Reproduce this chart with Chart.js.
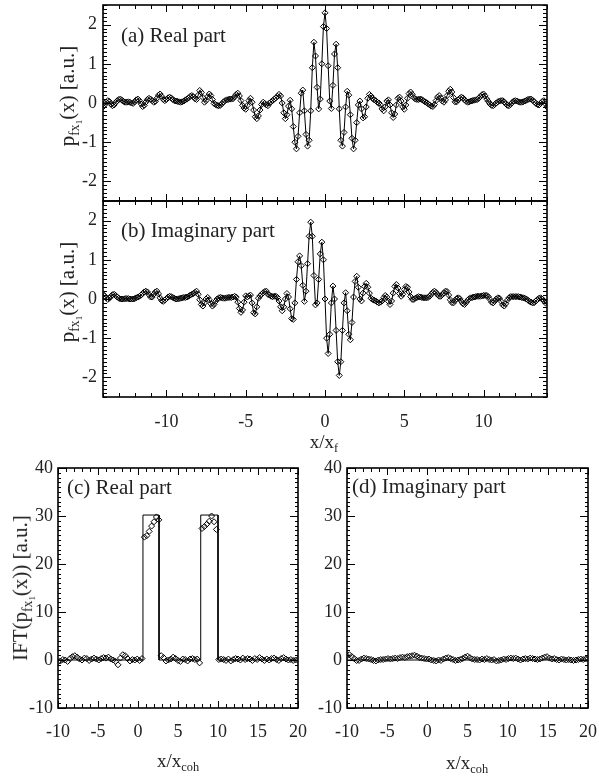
<!DOCTYPE html>
<html>
<head>
<meta charset="utf-8">
<script src="https://cdn.jsdelivr.net/npm/chart.js@4/dist/chart.umd.min.js"></script>
<style>
  body { margin: 0; background: #fff; width: 599px; height: 777px; position: relative; overflow: hidden;
         font-family: "Liberation Serif", "DejaVu Serif", serif; color: #222; }
  canvas { position: absolute; }
  .t { position: absolute; white-space: nowrap; font-size: 19px; line-height: 1; }
  .rot { transform: translate(-50%, -50%) rotate(-90deg); font-size: 21px; }
  .ctr { transform: translate(-50%, -50%); }
  .lab { transform: translateY(-50%); font-size: 21px; }
  sub { font-size: 65%; vertical-align: -0.35em; line-height: 0; }
</style>
</head>
<body>
<canvas id="pa" width="599" height="210" style="left:0;top:0"></canvas>
<canvas id="pb" width="599" height="260" style="left:0;top:190px"></canvas>
<canvas id="pc" width="312" height="317" style="left:0;top:460px"></canvas>
<canvas id="pd" width="299" height="317" style="left:300px;top:460px"></canvas>

<div class="t lab" style="left:121px;top:35px">(a) Real part</div>
<div class="t lab" style="left:121px;top:230px">(b) Imaginary part</div>
<div class="t lab" style="left:67px;top:487px">(c) Real part</div>
<div class="t lab" style="left:352px;top:486px">(d) Imaginary part</div>

<div class="t rot" style="left:68px;top:96px">p<sub>fx<sub>1</sub></sub>(x) [a.u.]</div>
<div class="t rot" style="left:68px;top:292px">p<sub>fx<sub>1</sub></sub>(x) [a.u.]</div>
<div class="t rot" style="left:21px;top:588px">IFT(p<sub>fx<sub>1</sub></sub>(x)) [a.u.]</div>

<div class="t ctr" style="left:324px;top:441px">x/x<sub>f</sub></div>
<div class="t ctr" style="left:178px;top:760px">x/x<sub>coh</sub></div>
<div class="t ctr" style="left:467px;top:762px">x/x<sub>coh</sub></div>

<script>
// Data -----------------------------------------------------------------------------------

// panels (a) and (b): samples from x = -14 to 14, every 0.1 x/x_f
var X_AB_START = -14;
var X_AB_STEP = 0.1;

var realPart = [
  -0.10, -0.05, 0.02, 0.06, 0.04, -0.03, -0.07, -0.05, 0.01, 0.06,
  0.09, 0.10, 0.07, 0.04, 0.02, 0.02, 0.03, 0.02, 0.00, -0.01,
  0.03, 0.08, 0.10, 0.06, -0.02, -0.09, -0.06, 0.02, 0.09, 0.12,
  0.10, 0.06, 0.02, 0.04, 0.12, 0.20, 0.23, 0.17, 0.09, 0.06,
  0.09, 0.13, 0.15, 0.13, 0.09, 0.06, 0.05, 0.04, 0.03, 0.02,
  0.03, 0.05, 0.08, 0.10, 0.13, 0.17, 0.19, 0.16, 0.11, 0.09,
  0.20, 0.32, 0.27, 0.14, 0.02, 0.06, 0.16, 0.23, 0.19, 0.09,
  -0.01, -0.04, -0.06, -0.07, -0.06, -0.02, 0.03, 0.06, 0.08, 0.09,
  0.10, 0.10, 0.11, 0.16, 0.22, 0.25, 0.18, 0.06, -0.06, -0.13,
  -0.16, -0.06, 0.06, 0.12, 0.02, -0.18, -0.35, -0.40, -0.33, -0.18,
  -0.04, 0.02, -0.01, -0.05, -0.07,
  0.00, 0.03, 0.06, 0.10, 0.13, 0.17, 0.22, 0.18, 0.00, -0.25,
  -0.40, -0.30, -0.08, 0.07, -0.15, -0.60, -1.00, -1.17, -0.85, -0.25,
  0.25, 0.33, -0.20, -0.80, -1.10, -0.95, -0.20, 0.90, 1.55, 1.20,
  0.40, -0.15, 0.10, 1.00, 1.95, 2.30, 1.90, 0.95, 0.05, -0.14,
  0.45, 1.25, 1.50, 0.90, -0.15, -0.95, -1.10, -0.75, -0.10, 0.30,
  0.20, -0.30, -0.90, -1.17, -0.95, -0.50, -0.05, 0.05, -0.15, -0.38,
  -0.35, -0.10, 0.12, 0.22, 0.18, 0.12, 0.08, 0.06, 0.02, 0.00,
  -0.05,
  -0.15, -0.20, -0.10, 0.05, 0.08, -0.05, -0.25, -0.37, -0.28, -0.05,
  0.12, 0.15, 0.05, -0.10, -0.16, -0.05, 0.12, 0.24, 0.28, 0.22,
  0.14, 0.10, 0.09, 0.09, 0.10, 0.09, 0.06, 0.03, 0.01, -0.02,
  -0.05, -0.08, -0.09, -0.04, 0.06, 0.15, 0.19, 0.13, 0.05, 0.02,
  0.08, 0.19, 0.30, 0.35, 0.28, 0.14, 0.03, 0.03, 0.08, 0.12,
  0.15, 0.13, 0.08, 0.04, 0.02, 0.03, 0.05, 0.06, 0.07, 0.08,
  0.09, 0.12, 0.17, 0.21, 0.23, 0.18, 0.10, 0.04, -0.02, -0.06,
  -0.07, -0.04, 0.00, 0.03, 0.05, 0.06, 0.06, 0.03, -0.02, -0.06,
  -0.07, -0.04, 0.01, 0.05, 0.06, 0.05, 0.03, 0.02, 0.02, 0.03,
  0.05, 0.07, 0.09, 0.10, 0.10, 0.07, 0.03, -0.01, -0.04, -0.05,
  -0.01, 0.04, 0.06, -0.02, -0.10
];

var imagPart = [
  0.12, 0.08, 0.03, -0.01, 0.02, 0.07, 0.11, 0.12, 0.09, 0.05,
  0.02, 0.00, 0.00, 0.00, 0.01, 0.01, 0.01, 0.00, 0.00, 0.00,
  0.01, 0.03, 0.05, 0.07, 0.10, 0.14, 0.18, 0.20, 0.18, 0.11,
  0.05, 0.05, 0.12, 0.18, 0.20, 0.13, 0.03, -0.04, -0.06, -0.03,
  0.01, 0.05, 0.07, 0.06, 0.04, 0.02, 0.00, 0.00, 0.01, 0.02,
  0.03, 0.04, 0.04, 0.05, 0.07, 0.10, 0.12, 0.14, 0.17, 0.20,
  0.12, -0.02, -0.14, -0.18, -0.10, 0.00, 0.04, -0.02, -0.12, -0.18,
  -0.14, -0.06, 0.00, 0.03, 0.04, 0.03, 0.02, 0.02, 0.03, 0.04,
  0.04, 0.04, 0.05, 0.07, 0.05, -0.08, -0.24, -0.34, -0.28, -0.08,
  0.08, 0.05, 0.08, 0.10, -0.10, -0.35, -0.38, -0.20, 0.02, 0.08,
  0.12, 0.16, 0.19, 0.20, 0.12,
  0.10, 0.07, 0.06, 0.07, 0.07, 0.04, -0.05, -0.20, -0.30, -0.20,
  0.00, 0.14, 0.05, -0.25, -0.50, -0.52, -0.10, 0.50, 0.95, 1.10,
  0.85, 0.35, -0.06, 0.20, 0.90, 1.60, 1.96, 1.60, 0.60, -0.15,
  -0.10, 0.50, 1.15, 1.45, 1.00, 0.00, -1.00, -1.39, -0.90, -0.10,
  0.33, 0.00, -0.80, -1.60, -1.95, -1.60, -0.80, -0.10, 0.16, -0.30,
  -0.90, -1.04, -0.60, 0.05, 0.45, 0.58, 0.30, 0.00, -0.05, 0.15,
  0.32, 0.40, 0.30, 0.15, 0.02, -0.01, -0.03, -0.05, -0.08, -0.10,
  -0.08,
  -0.05, 0.03, 0.09, 0.05, -0.06, -0.14, -0.05, 0.15, 0.32, 0.37,
  0.28, 0.14, 0.07, 0.12, 0.24, 0.32, 0.30, 0.18, 0.06, -0.01,
  -0.01, 0.02, 0.04, 0.06, 0.05, 0.04, 0.03, 0.03, 0.03, 0.04,
  0.07, 0.12, 0.17, 0.20, 0.17, 0.11, 0.07, 0.07, 0.11, 0.16,
  0.20, 0.19, 0.10, -0.02, -0.09, -0.10, -0.04, 0.01, 0.03, 0.01,
  -0.06, -0.12, -0.14, -0.09, -0.03, 0.01, 0.03, 0.04, 0.05, 0.06,
  0.07, 0.07, 0.07, 0.08, 0.09, 0.09, 0.09, 0.06, -0.01, -0.08,
  -0.10, -0.06, 0.00, 0.03, 0.02, -0.06, -0.15, -0.18, -0.12, -0.03,
  0.03, 0.06, 0.06, 0.06, 0.06, 0.06, 0.06, 0.05, 0.04, 0.03,
  0.02, 0.00, -0.03, -0.06, -0.08, -0.10, -0.09, -0.05, -0.01, 0.02,
  0.03, 0.00, -0.05, -0.10, -0.08
];

// panels (c) and (d): samples from x = -10 to 20, every 0.3 x/x_coh
var X_CD_START = -10;
var X_CD_STEP = 0.3;

var iftReal = [
  -0.4, -0.2, 0.1, 0.0, -0.3, 0.3, 0.7, 0.9, 0.6, 0.2,
  0.0, 0.4, 0.3, -0.1, 0.2, 0.4, 0.2, 0.0, 0.3, 0.5,
  0.4, 0.6, 0.2, 0.0, -0.3, -1.0, 0.4, 1.1, 0.9, 0.3,
  -0.2, 0.1, 0.0, 0.2, -0.1, 0.3, 25.6, 25.9, 26.8, 27.9,
  28.8, 29.8, 29.2, 0.9, 0.5, -0.2, 0.0, 0.2, 0.6, 0.3,
  -0.1, -0.3, 0.2, 0.1, -0.2, 0.2, 0.3, 0.1, 0.2, -0.6,
  27.4, 27.8, 28.3, 28.9, 30.0, 28.8, 27.2, 0.1, 0.2, 0.1,
  -0.1, 0.2, -0.2, 0.1, 0.3, 0.2, 0.0, 0.4, 0.1, 0.3,
  0.2, -0.1, 0.3, 0.1, 0.5, 0.2, -0.1, 0.2, 0.0, 0.3,
  0.4, 0.1, -0.1, 0.3, 0.5, 0.2, 0.0, 0.1, -0.1, 0.0,
  0.1
];

var iftImag = [
  0.9, 1.1, 0.7, 0.3, -0.1, -0.1, 0.2, 0.4, 0.3, 0.2,
  0.1, -0.1, -0.2, 0.0, 0.1, 0.1, 0.2, 0.3, 0.2, 0.3,
  0.4, 0.3, 0.5, 0.6, 0.5, 0.7, 0.8, 0.9, 1.0, 0.8,
  0.5, 0.4, 0.3, 0.2, 0.2, 0.0, -0.1, -0.2, 0.0, -0.1,
  0.2, 0.4, 0.5, 0.3, 0.1, -0.1, 0.0, 0.1, 0.3, 0.6,
  0.8, 0.5, 0.2, 0.1, 0.1, 0.0, 0.2, 0.1, 0.3, 0.1,
  0.0, 0.1, -0.2, -0.1, 0.0, 0.2, 0.1, 0.3, 0.4, 0.3,
  0.4, 0.2, 0.0, 0.2, 0.3, 0.2, 0.4, 0.3, 0.2, 0.1,
  0.2, 0.4, 0.6, 0.7, 0.4, 0.2, 0.3, 0.1, 0.0, 0.2,
  0.1, 0.0, 0.1, 0.0, -0.1, 0.0, 0.1, 0.2, 0.1, 0.2,
  0.3
];

// input object in (c): two boxes; (d) is zero everywhere
var boxX = [-10, 0.62, 0.62, 2.63, 2.63, 7.84, 7.84, 10.0, 10.0, 20];
var boxY = [0, 0, 30.2, 30.2, 0, 0, 30.2, 30.2, 0, 0];
var zeroX = [-10, 20];
var zeroY = [0, 0];

// tick labels
var xTicksAB = [-10, -5, 0, 5, 10];
var yTicksAB = [-2, -1, 0, 1, 2];
var xTicksCD = [-10, -5, 0, 5, 10, 15, 20];
var yTicksCD = [-10, 0, 10, 20, 30, 40];

// Constants ------------------------------------------------------------------------------

var FONT = { family: '"Liberation Serif", "DejaVu Serif", serif', size: 18 };
var TEXT_COLOR = '#222';
var MARKER_RADIUS = 3;

var ticksAB = { xMinor: 1, xMajor: 5, yMinor: 0.1, yMajor: 1, xMajorLen: 7, xMinorLen: 4, yMajorLen: 8, yMinorLen: 4 };
var ticksCD = { xMinor: 1, xMajor: 5, yMinor: 1, yMajor: 10, xMajorLen: 7, xMinorLen: 4, yMajorLen: 8, yMinorLen: 3 };

// Functions ------------------------------------------------------------------------------

function toPoints(start, step, ys) {
  return ys.map(function (y, i) { return { x: +(start + i * step).toFixed(2), y: y }; });
}

function pairPoints(xs, ys) {
  return xs.map(function (x, i) { return { x: x, y: ys[i] }; });
}

// inward IDL style ticks on all four sides plus the box frame
function frameTicks(o) {
  return {
    id: 'frameTicks',
    afterDraw: function (chart) {
      var ctx = chart.ctx, a = chart.chartArea;
      var xs = chart.scales.x, ys = chart.scales.y;
      function each(scale, minor, major, fn) {
        var first = Math.ceil(scale.min / minor - 1e-6);
        var last = Math.floor(scale.max / minor + 1e-6);
        for (var k = first; k <= last; k++) {
          var v = k * minor;
          var isMajor = Math.abs(v / major - Math.round(v / major)) < 1e-6;
          fn(Math.round(scale.getPixelForValue(v)) + 0.5, isMajor);
        }
      }
      ctx.save();
      ctx.strokeStyle = '#000';
      ctx.lineWidth = 1;
      ctx.beginPath();
      each(xs, o.xMinor, o.xMajor, function (px, m) {
        var len = m ? o.xMajorLen : o.xMinorLen;
        ctx.moveTo(px, a.bottom); ctx.lineTo(px, a.bottom - len);
        ctx.moveTo(px, a.top); ctx.lineTo(px, a.top + len);
      });
      each(ys, o.yMinor, o.yMajor, function (py, m) {
        var len = m ? o.yMajorLen : o.yMinorLen;
        ctx.moveTo(a.left, py); ctx.lineTo(a.left + len, py);
        ctx.moveTo(a.right, py); ctx.lineTo(a.right - len, py);
      });
      ctx.stroke();
      ctx.lineWidth = 1.6;
      ctx.strokeRect(a.left, a.top, a.right - a.left, a.bottom - a.top);
      ctx.restore();
    }
  };
}

function panel(id, p) {
  var context = document.getElementById(id).getContext('2d');
  return new Chart(context, {
    type: 'scatter',
    data: { datasets: p.datasets },
    options: {
      responsive: false,
      animation: false,
      events: [],
      layout: { padding: p.padding },
      plugins: {
        legend: { display: false },
        tooltip: { enabled: false }
      },
      scales: {
        x: {
          type: 'linear', min: p.xMin, max: p.xMax,
          grid: { display: false, drawTicks: false },
          border: { display: false },
          afterBuildTicks: function (s) { s.ticks = p.xTicks.map(function (v) { return { value: v }; }); },
          afterFit: function (s) { s.height = p.xHeight; s.paddingLeft = 0; s.paddingRight = 0; },
          ticks: { display: p.xLabels, padding: p.xPad, font: FONT, color: TEXT_COLOR, maxRotation: 0, autoSkip: false }
        },
        y: {
          type: 'linear', min: p.yMin, max: p.yMax,
          grid: { display: false, drawTicks: false },
          border: { display: false },
          afterBuildTicks: function (s) { s.ticks = p.yTicks.map(function (v) { return { value: v }; }); },
          afterFit: function (s) { s.width = p.yWidth; s.paddingTop = 0; s.paddingBottom = 0; },
          ticks: { padding: p.yPad, font: FONT, color: TEXT_COLOR, autoSkip: false }
        }
      }
    },
    plugins: [frameTicks(p.frame)]
  });
}

function markerLine(points) {
  return {
    data: points, showLine: true, borderColor: '#000', borderWidth: 1,
    pointStyle: 'rectRot', pointRadius: MARKER_RADIUS, pointBorderWidth: 1,
    pointBorderColor: '#000', pointBackgroundColor: 'rgba(0,0,0,0)'
  };
}

function markersOnly(points) {
  return {
    data: points, showLine: false,
    pointStyle: 'rectRot', pointRadius: MARKER_RADIUS, pointBorderWidth: 1,
    pointBorderColor: '#000', pointBackgroundColor: 'rgba(0,0,0,0)'
  };
}

function plainLine(points) {
  return { data: points, showLine: true, borderColor: '#000', borderWidth: 1, pointRadius: 0 };
}

panel('pa', {
  datasets: [markerLine(toPoints(X_AB_START, X_AB_STEP, realPart))],
  padding: { top: 5, left: 0, right: 52, bottom: 0 },
  xMin: -14, xMax: 14, yMin: -2.5, yMax: 2.5,
  xTicks: xTicksAB, yTicks: yTicksAB, xLabels: false, xPad: 0, xHeight: 9,
  yWidth: 103, yPad: 6, frame: ticksAB
});

panel('pb', {
  datasets: [markerLine(toPoints(X_AB_START, X_AB_STEP, imagPart))],
  padding: { top: 11, left: 0, right: 52, bottom: 0 },
  xMin: -14, xMax: 14, yMin: -2.5, yMax: 2.5,
  xTicks: xTicksAB, yTicks: yTicksAB, xLabels: true, xPad: 14, xHeight: 53,
  yWidth: 103, yPad: 6, frame: ticksAB
});

panel('pc', {
  datasets: [markersOnly(toPoints(X_CD_START, X_CD_STEP, iftReal)), plainLine(pairPoints(boxX, boxY))],
  padding: { top: 8, left: 0, right: 14, bottom: 0 },
  xMin: -10, xMax: 20, yMin: -10, yMax: 40,
  xTicks: xTicksCD, yTicks: yTicksCD, xLabels: true, xPad: 13, xHeight: 69,
  yWidth: 58, yPad: 5, frame: ticksCD
});

panel('pd', {
  datasets: [markersOnly(toPoints(X_CD_START, X_CD_STEP, iftImag)), plainLine(pairPoints(zeroX, zeroY))],
  padding: { top: 8, left: 0, right: 11, bottom: 0 },
  xMin: -10, xMax: 20, yMin: -10, yMax: 40,
  xTicks: xTicksCD, yTicks: yTicksCD, xLabels: true, xPad: 13, xHeight: 69,
  yWidth: 47, yPad: 5, frame: ticksCD
});
</script>
</body>
</html>
